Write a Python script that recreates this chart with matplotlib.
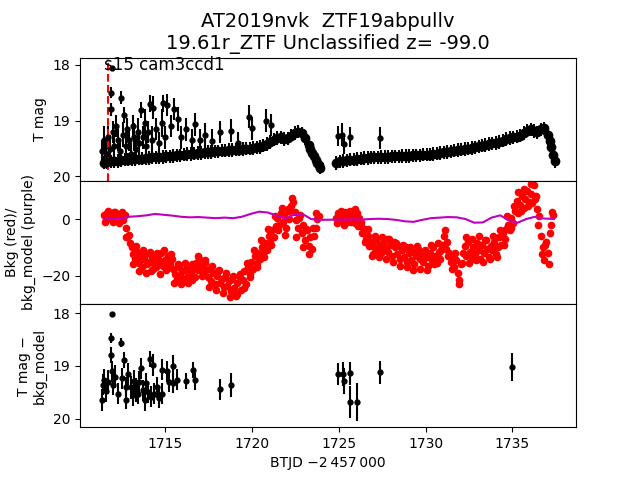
import numpy as np
import matplotlib
matplotlib.use('Agg')
import matplotlib.pyplot as plt

# ---------------- data ----------------
# Top panel: dense baseline light curve (T mag), two orbits, 0.2 d cadence
base1_start = 1711.45
base1_mag = [19.75, 19.74, 19.73, 19.72, 19.72, 19.71, 19.70, 19.70, 19.69, 19.69,
             19.68, 19.68, 19.67, 19.67, 19.66, 19.66, 19.65, 19.65, 19.64, 19.64,
             19.63, 19.62, 19.62, 19.61, 19.60, 19.60, 19.59, 19.58, 19.58, 19.57,
             19.56, 19.56, 19.55, 19.55, 19.54, 19.54, 19.53, 19.53, 19.52, 19.52,
             19.51, 19.50, 19.50, 19.49, 19.48, 19.47, 19.45, 19.42, 19.38, 19.34,
             19.31, 19.30, 19.33, 19.32, 19.27, 19.22, 19.20, 19.23, 19.32, 19.44,
             19.58, 19.70, 19.80]
base2_start = 1724.85
base2_mag = [19.76, 19.73, 19.72, 19.71, 19.70, 19.70, 19.69, 19.68, 19.67, 19.67,
             19.66, 19.66, 19.66, 19.65, 19.65, 19.65, 19.64, 19.64, 19.64, 19.63,
             19.63, 19.63, 19.62, 19.62, 19.62, 19.61, 19.61, 19.61, 19.60, 19.59,
             19.58, 19.57, 19.56, 19.55, 19.54, 19.53, 19.52, 19.51, 19.50, 19.49,
             19.48, 19.46, 19.45, 19.44, 19.42, 19.41, 19.40, 19.38, 19.36, 19.33,
             19.31, 19.30, 19.29, 19.27, 19.22, 19.18, 19.16, 19.19, 19.21, 19.16,
             19.14, 19.25, 19.48]
# extra baseline samples on the steep orbit-end drops
edge_t = [1723.35, 1723.55, 1723.75, 1723.90, 1737.15, 1737.35, 1737.45]
edge_mag = [19.51, 19.64, 19.76, 19.84, 19.37, 19.61, 19.73]

# Top panel: individual detections with error bars
det_t = [1711.35, 1711.45, 1711.55, 1711.70, 1711.80, 1711.89, 1711.87, 1711.87, 1711.95, 1712.05,
         1712.15, 1712.25, 1712.35, 1712.45, 1712.55, 1712.60, 1712.70, 1712.80, 1712.90, 1713.00,
         1713.10, 1713.20, 1713.30, 1713.40, 1713.50, 1713.60, 1713.70, 1713.80, 1713.90, 1714.00,
         1714.10, 1714.20, 1714.30, 1714.45, 1714.60, 1714.80, 1714.86, 1715.00, 1715.10, 1715.30,
         1715.50, 1715.70, 1715.90, 1716.20, 1716.50, 1716.70, 1717.00, 1717.30, 1717.67, 1718.15,
         1718.80, 1719.20, 1719.80, 1719.98, 1720.80, 1721.08, 1724.93, 1725.18, 1725.28, 1725.66,
         1727.34]
det_mag = [19.55, 19.35, 19.60, 19.30, 19.50, 18.06, 18.50, 18.80, 19.20, 19.45,
           19.10, 19.35, 19.55, 18.59, 19.25, 18.90, 19.45, 19.15, 19.35, 19.60,
           19.10, 19.30, 19.50, 19.20, 19.40, 18.81, 19.30, 19.05, 19.45, 19.20,
           18.70, 19.35, 18.77, 19.15, 19.40, 19.05, 18.69, 19.30, 18.72, 19.10,
           18.79, 18.97, 19.30, 19.16, 19.35, 19.07, 19.35, 19.25, 19.36, 19.20,
           19.18, 19.40, 18.93, 19.14, 19.00, 19.08, 19.28, 19.25, 19.42, 19.30,
           19.31]
det_err = [0.20, 0.25, 0.20, 0.20, 0.25, 0.03, 0.10, 0.12, 0.20, 0.25,
           0.20, 0.20, 0.20, 0.12, 0.22, 0.15, 0.25, 0.20, 0.20, 0.20,
           0.20, 0.25, 0.20, 0.25, 0.20, 0.15, 0.20, 0.25, 0.20, 0.20,
           0.15, 0.25, 0.20, 0.20, 0.20, 0.25, 0.15, 0.20, 0.20, 0.20,
           0.20, 0.22, 0.20, 0.20, 0.20, 0.20, 0.20, 0.20, 0.20, 0.20,
           0.20, 0.20, 0.20, 0.20, 0.20, 0.20, 0.18, 0.20, 0.18, 0.18,
           0.20]

# Middle panel: background (red), 0.1 d cadence, two orbits
bkg1_start = 1711.45
bkg1 = [1.5, -0.5, 2.0, 0.5, 1.0, -1.0, 2.5, 0.0, 1.5, 0.5,
        1.0, -0.5, 1.5, -3.0, -6.0, -8.5, -10.0, -12.5, -14.0, -11.5,
        -15.5, -13.0, -17.0, -14.0, -12.5, -16.0, -15.0, -18.5, -13.5, -15.5,
        -17.0, -14.0, -15.5, -12.0, -16.5, -14.5, -18.0, -13.0, -16.0, -14.0,
        -17.5, -19.5, -21.0, -17.0, -20.0, -18.5, -22.0, -18.0, -20.5, -17.5,
        -19.0, -21.5, -17.5, -15.5, -18.0, -14.0, -16.5, -19.0, -15.5, -18.0,
        -20.5, -17.5, -22.0, -19.0, -23.0, -20.0, -18.5, -22.5, -21.0, -24.0,
        -20.5, -23.5, -22.0, -25.5, -21.0, -24.5, -27.0, -22.5, -20.0, -25.0,
        -21.5, -18.5, -23.0, -17.0, -19.5, -15.0, -17.5, -13.0, -15.5, -12.0,
        -14.0, -10.0, -12.5, -8.5, -11.0, -6.0, -8.0, -4.0, -6.5, -2.5,
        0.5, -2.0, 2.0, -1.0, 1.5, -3.0, 3.5, 0.0, 4.5, 6.0,
        2.5, -0.5, -3.0, 1.5, -5.0, -2.0, -7.5, -4.0, -9.5, -6.5,
        -10.5, -6.0, -3.0, 0.0, 1.0]
bkg2_start = 1724.85
bkg2 = [0.5, 2.0, -0.5, 1.5, 0.0, 2.5, -1.0, 1.0, 3.0, 0.0,
        1.5, -1.5, 2.0, 0.5, -2.5, -5.0, -3.5, -7.0, -6.0, -9.5,
        -8.0, -12.5, -10.0, -7.5, -11.0, -9.0, -12.0, -8.5, -10.5, -7.0,
        -11.5, -9.0, -13.0, -8.0, -10.0, -12.5, -9.5, -14.0, -11.0, -13.5,
        -10.0, -15.0, -12.0, -14.5, -11.5, -16.0, -13.0, -10.5, -14.0, -12.0,
        -15.0, -11.0, -13.5, -16.5, -12.0, -14.5, -10.0, -13.0, -15.5, -11.5,
        -14.0, -9.0, -6.0, -10.5, -8.0, -12.0, -15.0, -13.0, -17.0, -14.5,
        -19.0, -21.5, -16.0, -12.0, -9.5, -13.0, -8.0, -11.5, -14.0, -10.0,
        -12.5, -8.5, -11.0, -14.0, -9.0, -12.0, -7.5, -10.5, -13.5, -9.5,
        -11.0, -8.0, -12.5, -10.0, -6.5, -9.0, -5.0, -7.0, -3.5, -2.0,
        -4.0, 0.5, -1.5, 3.0, 6.5, 2.0, 5.0, 8.0, 4.0, 7.0,
        10.0, 6.0, 9.0, 5.5, 12.0, 8.0, 3.5, 1.0, -6.0, -10.0,
        -14.5, -8.0, -12.0, -5.0, -2.0, 1.5]
# interleaved background samples (0.2 d cadence, offset by 0.05 d)
bkg1b_start = 1711.50
bkg1b = [-1.0, 3.0, -0.5, 2.5, -1.5, 2.5, -6.5, -5.5, -16.0, -9.5,
         -18.5, -11.0, -19.0, -11.5, -17.5, -12.0, -19.5, -11.0, -17.0, -12.5,
         -22.5, -16.0, -23.0, -15.5, -22.5, -16.0, -20.5, -13.0, -20.0, -14.5,
         -24.0, -16.5, -25.0, -18.0, -26.0, -19.0, -27.5, -20.0, -26.5, -19.5,
         -24.5, -15.5, -20.5, -11.0, -17.0, -7.5, -13.5, -3.5, -9.0, 1.0,
         -4.0, 4.0, -5.5, 3.0, 7.5, -6.5, 0.5, -10.0, -3.5, -12.5,
         -3.0, 2.0]
bkg2b_start = 1724.90
bkg2b = [-1.5, 3.0, -2.0, 2.5, -1.0, 3.5, -2.5, -1.0, -8.0, -3.5,
         -13.0, -6.0, -13.5, -6.5, -14.0, -7.0, -15.0, -8.5, -16.5, -9.0,
         -17.0, -10.0, -18.0, -9.5, -17.5, -12.0, -18.0, -9.0, -16.0, -8.5,
         -11.0, -4.0, -13.0, -17.5, -12.0, -23.0, -15.5, -6.5, -15.5, -7.0,
         -14.5, -6.0, -15.0, -7.5, -14.0, -6.0, -13.5, -4.0, -9.0, 1.0,
         -3.0, 4.5, 9.5, 3.0, 10.5, 4.5, 12.5, 7.0, -2.0, -12.5,
         -9.0, -16.0, 2.5]

# Middle panel: background model (purple)
model_t = [1711.45, 1711.9, 1712.4, 1712.9, 1713.4, 1713.9, 1714.4, 1714.9, 1715.4, 1715.9,
           1716.4, 1716.9, 1717.4, 1717.9, 1718.4, 1718.9, 1719.4, 1719.9, 1720.4, 1720.9,
           1721.4, 1721.9, 1722.4, 1722.9, 1723.4, 1723.85,
           1724.85, 1725.3, 1725.8, 1726.3, 1726.8, 1727.3, 1727.8, 1728.3, 1728.8, 1729.3,
           1729.8, 1730.3, 1730.8, 1731.3, 1731.8, 1732.3, 1732.8, 1733.3, 1733.8, 1734.3,
           1734.8, 1735.3, 1735.8, 1736.3, 1736.8, 1737.4]
model_v = [0.0, 0.0, 0.2, 0.8, 1.0, 1.3, 1.8, 1.5, 1.2, 0.8,
           0.6, 0.7, 0.5, 0.3, 0.5, 0.3, 0.8, 1.8, 2.6, 2.3,
           1.2, 0.2, 1.5, 1.8, 0.0, -0.3,
           -0.2, -0.2, -0.1, -0.2, 0.0, 0.1, 0.0, -0.3, -0.8, -1.0,
           -0.3, 0.3, 0.5, 0.7, 0.6, 0.0, -1.3, -1.2, 0.5, 1.3,
           -0.5, -1.3, 0.0, 0.8, 0.2, 0.0]

# Bottom panel: T mag - bkg_model detections
sub_t = [1711.31, 1711.40, 1711.45, 1711.55, 1711.70, 1711.87, 1711.89, 1711.87, 1711.90, 1712.00,
         1712.10, 1712.25, 1712.45, 1712.50, 1712.60, 1712.70, 1712.75, 1712.85, 1713.00, 1713.10,
         1713.20, 1713.30, 1713.40, 1713.50, 1713.60, 1713.70, 1713.80, 1713.90, 1714.00, 1714.09,
         1714.15, 1714.30, 1714.35, 1714.50, 1714.60, 1714.78, 1714.80, 1715.10, 1715.20, 1715.45,
         1715.45, 1715.68, 1716.17, 1716.60, 1716.70, 1718.15, 1718.80, 1724.93, 1725.22, 1725.28,
         1725.66, 1725.66, 1726.03, 1727.34, 1734.99]
sub_mag = [19.64, 19.35, 19.26, 19.48, 19.30, 18.47, 18.01, 18.79, 19.10, 19.35,
           19.20, 19.52, 18.56, 19.23, 18.88, 19.40, 19.64, 19.15, 19.40, 19.55,
           19.28, 19.45, 19.52, 19.30, 19.04, 19.46, 19.64, 19.33, 19.50, 18.87,
           19.58, 18.98, 19.52, 19.40, 19.60, 19.07, 19.52, 19.10, 19.30, 19.00,
           19.33, 19.26, 19.28, 19.07, 19.26, 19.44, 19.36, 19.15, 19.15, 19.28,
           19.14, 19.68, 19.68, 19.12, 19.02]
sub_err = [0.20, 0.20, 0.20, 0.20, 0.22, 0.10, 0.03, 0.15, 0.20, 0.20,
           0.22, 0.20, 0.08, 0.20, 0.15, 0.20, 0.18, 0.20, 0.22, 0.20,
           0.20, 0.22, 0.20, 0.20, 0.20, 0.20, 0.20, 0.20, 0.20, 0.15,
           0.20, 0.20, 0.20, 0.20, 0.20, 0.20, 0.20, 0.20, 0.20, 0.20,
           0.18, 0.20, 0.15, 0.15, 0.20, 0.20, 0.22, 0.20, 0.22, 0.25,
           0.22, 0.30, 0.35, 0.22, 0.27]

title_text = "AT2019nvk  ZTF19abpullv\n19.61r_ZTF Unclassified z= -99.0"
sector_text = "s15 cam3ccd1"
t_marker = 1711.66

# ---------------- plot ----------------
fig, (ax1, ax2, ax3) = plt.subplots(3, 1, figsize=(6.4, 4.8), dpi=100, sharex=True,
                                    gridspec_kw=dict(hspace=0))

b1t = base1_start + 0.2 * np.arange(len(base1_mag))
b2t = base2_start + 0.2 * np.arange(len(base2_mag))
bt = np.concatenate([b1t, b2t, edge_t])
bm = np.array(base1_mag + base2_mag + edge_mag)
ax1.errorbar(bt, bm, yerr=0.12, fmt='o', color='k', ms=6, lw=1.5)
ax1.errorbar(det_t, det_mag, yerr=det_err, fmt='o', color='k', ms=3.5, lw=1.5)
ax1.axvline(t_marker, color='r', ls='--', lw=1.5)
ax1.text(1711.48, 18.09, sector_text, fontsize=12, va='baseline')
ax1.set_ylim(20.077, 17.875)
ax1.set_ylabel("T mag")
ax1.set_title(title_text, fontsize=14)
ax1.tick_params(axis='x', bottom=False, labelbottom=False)

r1t = bkg1_start + 0.1 * np.arange(len(bkg1))
r2t = bkg2_start + 0.1 * np.arange(len(bkg2))
r1bt = bkg1b_start + 0.2 * np.arange(len(bkg1b))
r2bt = bkg2b_start + 0.2 * np.arange(len(bkg2b))
ax2.plot(np.concatenate([r1t, r1bt, r2t, r2bt]), np.array(bkg1 + bkg1b + bkg2 + bkg2b),
         'o', color='r', ms=4.5)
ax2.plot(model_t, model_v, '-', color='m', lw=1.5)
ax2.set_ylim(-30.0, 13.5)
ax2.set_ylabel("Bkg (red)/\nbkg_model (purple)")
ax2.tick_params(axis='x', bottom=False, labelbottom=False)

ax3.errorbar(sub_t, sub_mag, yerr=sub_err, fmt='o', color='k', ms=3.5, lw=1.5)
ax3.set_ylim(20.155, 17.83)
ax3.set_ylabel("T mag \u2212\nbkg_model")
ax3.set_xlim(1710.07, 1738.67)
ax3.set_xlabel("BTJD \u22122\u2009457\u2009000")

fig.savefig("out.png", dpi=100)
